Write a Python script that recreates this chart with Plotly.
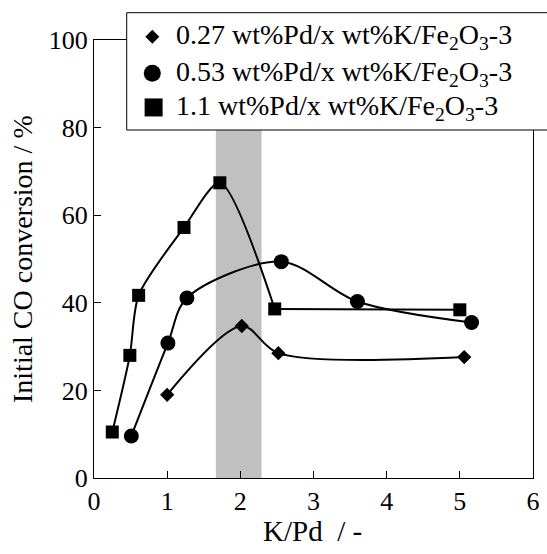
import plotly.graph_objects as go

# K/Pd ratio and initial CO conversion (%) for each catalyst
x_027 = [1.00, 2.02, 2.52, 5.06]
y_027 = [19.0, 34.7, 28.5, 27.6]

x_053 = [0.51, 1.01, 1.27, 2.56, 3.60, 5.16]
y_053 = [9.6, 30.8, 41.1, 49.4, 40.3, 35.5]

x_11 = [0.25, 0.49, 0.61, 1.23, 1.72, 2.47, 5.00]
y_11 = [10.5, 28.0, 41.7, 57.2, 67.4, 38.6, 38.4]

names = [
    "0.27 wt%Pd/x wt%K/Fe<sub>2</sub>O<sub>3</sub>-3",
    "0.53 wt%Pd/x wt%K/Fe<sub>2</sub>O<sub>3</sub>-3",
    "1.1 wt%Pd/x wt%K/Fe<sub>2</sub>O<sub>3</sub>-3",
]
x_title = "K/Pd  / -"
y_title = "Initial CO conversion / %"
band = [1.665, 2.29]

FONT = "Times New Roman, Liberation Serif, serif"
line = dict(color="black", width=2)

fig = go.Figure()

# smoothed lines
fig.add_trace(go.Scatter(x=x_027, y=y_027, mode="lines", line=dict(shape="spline", smoothing=0.9, **line),
                         showlegend=False, hoverinfo="skip"))
fig.add_trace(go.Scatter(x=x_053, y=y_053, mode="lines", line=dict(shape="spline", smoothing=0.9, **line),
                         showlegend=False, hoverinfo="skip"))
fig.add_trace(go.Scatter(x=x_11[:-1], y=y_11[:-1], mode="lines", line=dict(shape="spline", smoothing=0.75, **line),
                         showlegend=False, hoverinfo="skip"))
fig.add_trace(go.Scatter(x=x_11[-2:], y=y_11[-2:], mode="lines", line=line,
                         showlegend=False, hoverinfo="skip"))

# markers
fig.add_trace(go.Scatter(x=x_027, y=y_027, mode="markers", name=names[0], showlegend=False,
                         marker=dict(symbol="diamond", size=11, color="black")))
fig.add_trace(go.Scatter(x=x_053, y=y_053, mode="markers", name=names[1], showlegend=False,
                         marker=dict(symbol="circle", size=15, color="black")))
fig.add_trace(go.Scatter(x=x_11, y=y_11, mode="markers", name=names[2], showlegend=False,
                         marker=dict(symbol="square", size=13, color="black")))

# shaded band
fig.add_shape(type="rect", xref="x", yref="y", x0=band[0], x1=band[1], y0=0, y1=100,
              fillcolor="#c0c0c0", line=dict(width=0), layer="below")

# legend box (drawn manually so it can overlap the frame like the original)
fig.add_shape(type="rect", xref="paper", yref="paper", x0=0.0745, x1=1.045, y0=0.7945, y1=1.0623,
              fillcolor="white", line=dict(color="black", width=1), layer="above")

leg_y = [1.0075, 0.924, 0.846]
sym_x = 0.1328
txt_x = 0.182
# diamond
fig.add_shape(type="path", xref="paper", yref="paper", xsizemode="pixel", ysizemode="pixel",
              xanchor=sym_x, yanchor=leg_y[0], path="M -7 0 L 0 7 L 7 0 L 0 -7 Z",
              fillcolor="black", line=dict(width=0), layer="above")
# circle
fig.add_shape(type="circle", xref="paper", yref="paper", xsizemode="pixel", ysizemode="pixel",
              xanchor=sym_x, yanchor=leg_y[1], x0=-8.5, x1=8.5, y0=-8.5, y1=8.5,
              fillcolor="black", line=dict(width=0), layer="above")
# square
fig.add_shape(type="rect", xref="paper", yref="paper", xsizemode="pixel", ysizemode="pixel",
              xanchor=sym_x + 0.003, yanchor=leg_y[2], x0=-9, x1=9, y0=-9, y1=9,
              fillcolor="black", line=dict(width=0), layer="above")

for yy, nm in zip(leg_y, names):
    fig.add_annotation(xref="paper", yref="paper", x=txt_x, y=yy, text=nm, showarrow=False,
                       xanchor="left", yanchor="middle",
                       font=dict(family=FONT, size=28, color="black"))

# axis titles
fig.add_annotation(xref="paper", yref="paper", x=0.497, y=-0.122, text=x_title, showarrow=False,
                   xanchor="center", yanchor="middle", font=dict(family=FONT, size=29, color="black"))
fig.add_annotation(xref="paper", yref="paper", x=-0.164, y=0.5, text=y_title, showarrow=False,
                   textangle=-90, xanchor="center", yanchor="middle",
                   font=dict(family=FONT, size=28, color="black"))

axis_common = dict(showline=True, linecolor="black", linewidth=1, mirror=True,
                   ticks="inside", ticklen=7, tickwidth=1, tickcolor="black",
                   showgrid=False, zeroline=False, automargin=False,
                   tickfont=dict(family=FONT, size=26, color="black"))

fig.update_xaxes(range=[0, 6], dtick=1, tick0=0, **axis_common)
fig.update_yaxes(range=[0, 100], dtick=20, tick0=0, **axis_common)

fig.update_layout(
    width=547, height=554,
    margin=dict(l=94, r=14, t=40, b=76, autoexpand=False),
    plot_bgcolor="white", paper_bgcolor="white",
    font=dict(family=FONT, color="black"),
    showlegend=False,
)

fig.write_html("out.html", config={"displayModeBar": False},
               post_script="document.body.style.margin='0';document.body.style.overflow='hidden';")
